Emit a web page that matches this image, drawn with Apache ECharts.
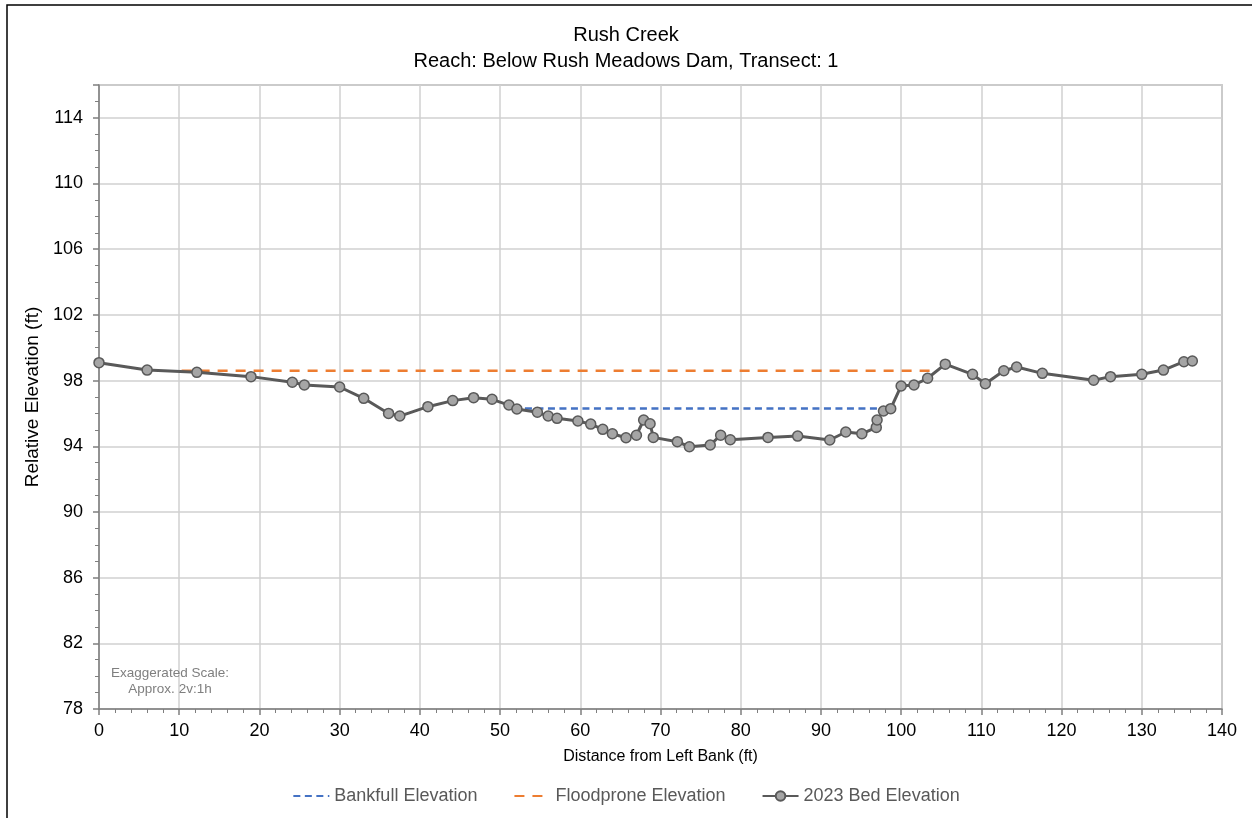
<!DOCTYPE html>
<html>
<head>
<meta charset="utf-8">
<script src="https://cdn.jsdelivr.net/npm/echarts@6/dist/echarts.min.js"></script>
<style>
html,body{margin:0;padding:0;background:#fff;}
#chart{width:1252px;height:818px;}
</style>
</head>
<body>
<div id="chart"></div>
<script>
// Data
const bedDistance = [0, 6.0, 12.2, 18.95, 24.1, 25.6, 30.0, 33.0, 36.1, 37.5, 41.0, 44.1, 46.7, 49.0, 51.1, 52.1, 54.65, 56.0, 57.1, 59.7, 61.3, 62.8, 64.0, 65.7, 67.0, 67.9, 68.7, 69.1, 72.1, 73.6, 76.2, 77.5, 78.7, 83.4, 87.1, 91.1, 93.1, 95.1, 96.9, 97.0, 97.8, 98.7, 100.0, 101.6, 103.3, 105.5, 108.9, 110.5, 112.8, 114.4, 117.6, 124.0, 126.1, 130.0, 132.7, 135.25, 136.3];
const bedElevation = [99.09, 98.64, 98.5, 98.24, 97.9, 97.73, 97.61, 96.92, 96.0, 95.84, 96.41, 96.78, 96.96, 96.86, 96.51, 96.27, 96.07, 95.84, 95.7, 95.54, 95.35, 95.03, 94.76, 94.52, 94.67, 95.6, 95.37, 94.54, 94.28, 93.97, 94.08, 94.67, 94.4, 94.54, 94.62, 94.38, 94.87, 94.76, 95.15, 95.6, 96.15, 96.29, 97.67, 97.73, 98.14, 99.0, 98.38, 97.81, 98.6, 98.83, 98.44, 98.02, 98.24, 98.38, 98.64, 99.15, 99.19];
const bankfullDistance = [53.1, 97.4];
const bankfullElevation = [96.3, 96.3];
const floodproneDistance = [10.3, 104.2];
const floodproneElevation = [98.6, 98.6];
const seriesNames = ['Bankfull Elevation', 'Floodprone Elevation', '2023 Bed Elevation'];
const titleLines = ['Rush Creek', 'Reach: Below Rush Meadows Dam, Transect: 1'];
const xAxisTitle = 'Distance from Left Bank (ft)';
const yAxisTitle = 'Relative Elevation (ft)';
const noteLines = ['Exaggerated Scale:', 'Approx. 2v:1h'];

const pair = (xs, ys) => xs.map((x, i) => [x, ys[i]]);
const FONT = '"Liberation Sans", Arial, sans-serif';

const chart = echarts.init(document.getElementById('chart'), null, {renderer: 'canvas'});
chart.setOption({
  backgroundColor: '#ffffff',
  animation: false,
  textStyle: {fontFamily: FONT},
  title: {
    text: titleLines.join('\n'),
    left: 'center',
    top: 17,
    textStyle: {fontFamily: FONT, fontSize: 20, fontWeight: 'normal', color: '#000', lineHeight: 26}
  },
  grid: {left: 99, right: 30, top: 85, bottom: 109, show: true, borderColor: '#a6a6a6', borderWidth: 1.5},
  xAxis: {
    type: 'value', min: 0, max: 140, interval: 10,
    name: xAxisTitle, nameLocation: 'middle', nameGap: 40,
    nameTextStyle: {fontFamily: FONT, fontSize: 16, color: '#000'},
    axisLine: {show: true, onZero: false, lineStyle: {color: '#7f7f7f', width: 1.5}},
    axisTick: {show: true, length: 6, lineStyle: {color: '#7f7f7f', width: 1.5}},
    minorTick: {show: true, splitNumber: 5, length: 4, lineStyle: {color: '#7f7f7f', width: 1}},
    axisLabel: {fontFamily: FONT, fontSize: 18, color: '#000', margin: 13},
    splitLine: {show: true, lineStyle: {color: '#d0d0d0', width: 1.5}}
  },
  yAxis: {
    type: 'value', min: 78, max: 116, interval: 4,
    name: yAxisTitle, nameLocation: 'middle', nameGap: 52,
    nameTextStyle: {fontFamily: FONT, fontSize: 19, color: '#000'},
    axisLine: {show: true, onZero: false, lineStyle: {color: '#7f7f7f', width: 1.5}},
    axisTick: {show: true, length: 6, lineStyle: {color: '#7f7f7f', width: 1.5}},
    minorTick: {show: true, splitNumber: 4, length: 4, lineStyle: {color: '#7f7f7f', width: 1}},
    axisLabel: {fontFamily: FONT, fontSize: 18, color: '#000', margin: 16, showMaxLabel: false},
    splitLine: {show: true, lineStyle: {color: '#d0d0d0', width: 1.5}}
  },
  legend: {
    bottom: 8, left: 'center',
    itemWidth: 36, itemHeight: 12, itemGap: 36,
    textStyle: {fontFamily: FONT, fontSize: 18, color: '#595959'},
    data: [
      {name: seriesNames[0], itemStyle: {opacity: 0}},
      {name: seriesNames[1], itemStyle: {opacity: 0}},
      {name: seriesNames[2]}
    ]
  },
  graphic: [
    {type: 'rect', x: 7, y: 5, shape: {x: 0, y: 0, width: 1400, height: 1000}, style: {fill: 'none', stroke: '#000', lineWidth: 1.5}, silent: true, z: -1},
    {type: 'text', x: 170, y: 681, style: {text: noteLines.join('\n'), fill: '#7f7f7f', font: '13.5px ' + FONT, textAlign: 'center', textVerticalAlign: 'middle', lineHeight: 16}, z: 10}
  ],
  series: [
    {
      name: seriesNames[0], type: 'line', data: pair(bankfullDistance, bankfullElevation),
      symbol: 'none', color: '#4472C4',
      lineStyle: {color: '#4472C4', width: 2.5, type: [7, 4.5]}, z: 2
    },
    {
      name: seriesNames[1], type: 'line', data: pair(floodproneDistance, floodproneElevation),
      symbol: 'none', color: '#ED7D31',
      lineStyle: {color: '#ED7D31', width: 2.5, type: [10, 8]}, z: 2
    },
    {
      name: seriesNames[2], type: 'line', data: pair(bedDistance, bedElevation),
      symbol: 'circle', symbolSize: 10, color: '#595959',
      lineStyle: {color: '#595959', width: 3},
      itemStyle: {color: '#a5a5a5', borderColor: '#595959', borderWidth: 1.5}, z: 3
    }
  ]
});
</script>
</body>
</html>
